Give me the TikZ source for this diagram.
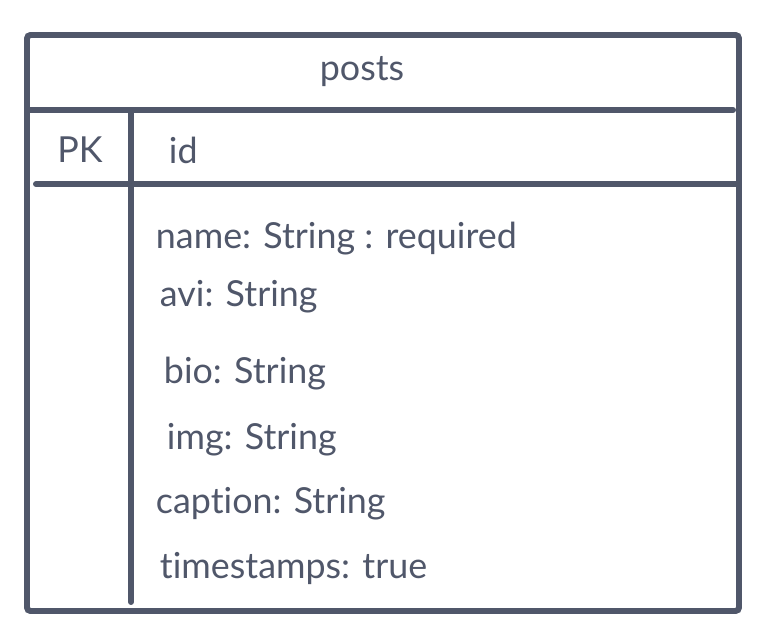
\documentclass[tikz,border=0pt]{standalone}
\usepackage{fontspec}
\setmainfont{Lato}[Ligatures=NoCommon]
\usepackage{tikz}
\usetikzlibrary{calc}
\definecolor{ink}{RGB}{80,87,106}

\begin{document}
\begin{tikzpicture}[x=0.02cm,y=-0.02cm,line width=3.4pt,line cap=round,
    field/.style={anchor=west,text=ink,inner sep=0pt,font=\fontsize{20.4}{23}\selectfont}]
        \useasboundingbox (0,0) rectangle (761,642);
        \draw[ink,rounded corners=2pt](27,35) rectangle (739,611);
        \draw[ink](29,110)--(733,110);
        \draw[ink](36,184)--(739,184);
        \draw[ink](131,112)--(131,602);
        \node[field,anchor=center] (title) at(362,72){posts};
        \node[field,anchor=center] (pk) at(80,150){PK};
        \node[field] (id) at(166,150){id};
        \node[field] (name) at(153,239){name: String : required};
        \node[field] (avi) at(157,297){avi: String};
        \node[field] (bio) at(161,374){bio: String};
        \node[field] (img) at(164,440){img: String};
        \node[field] (caption) at(153,504){caption: String};
        \node[field] (stamps) at(157,568){timestamps: true};
    \end{tikzpicture}
\end{document}
